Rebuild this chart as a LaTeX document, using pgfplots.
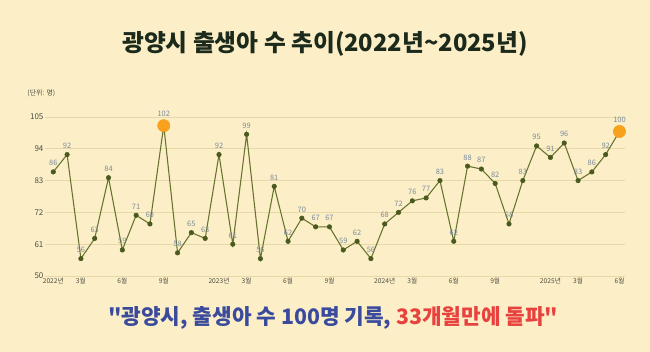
\documentclass[border=0pt]{standalone}
\usepackage{pgfplots}
\pgfplotsset{compat=1.18}
\usepackage{fontspec}
\setmainfont{Noto Sans CJK KR}
\definecolor{bg}{HTML}{FCEFC7}
\definecolor{gridc}{HTML}{E6D8A8}
\definecolor{linec}{HTML}{66722E}
\definecolor{markc}{HTML}{4A5A1E}
\definecolor{labc}{HTML}{7A8A9C}
\definecolor{tickc}{HTML}{4E4E44}
\definecolor{orangec}{HTML}{F7A11C}
\definecolor{titlec}{HTML}{1C2A1C}
\definecolor{bluec}{HTML}{3A4A9C}
\definecolor{redc}{HTML}{E8423F}
\begin{document}
\begin{tikzpicture}
\fill[bg] (0,0) rectangle (487.5pt,264pt);
\node[font=\fontsize{17.8}{19}\selectfont\bfseries, text=titlec] at (243.75pt,231pt) {광양시 출생아 수 추이(2022년\textasciitilde2025년)};
\node[font=\fontsize{5.2}{6}\selectfont, text=tickc] at (31pt,194pt) {(단위: 명)};
\begin{axis}[
  at={(33.75pt,57pt)}, anchor=south west,
  scale only axis, width=435pt, height=119.25pt,
  xmin=-0.6, xmax=41.4, ymin=50, ymax=105,
  axis line style={draw=none},
  tick style={draw=none},
  ytick={50,61,72,83,94,105},
  ymajorgrids, grid style={gridc, line width=0.6pt},
  xtick={0,2,5,8,12,14,17,20,24,26,29,32,36,38,41},
  xticklabels={2022년,3월,6월,9월,2023년,3월,6월,9월,2024년,3월,6월,9월,2025년,3월,6월},
  xticklabel style={font=\fontsize{5}{6}\selectfont, text=tickc},
  yticklabel style={font=\fontsize{6}{7}\selectfont, text=tickc},
  /pgf/number format/assume math mode=true,
  major tick length=0pt,
  tick label style={inner sep=1pt},
  clip=false,
]
\addplot[linec, line width=0.8pt, mark=none] coordinates {
(0,86)(1,92)(2,56)(3,63)(4,84)(5,59)(6,71)(7,68)(8,102)(9,58)(10,65)(11,63)(12,92)(13,61)(14,99)(15,56)(16,81)(17,62)(18,70)(19,67)(20,67)(21,59)(22,62)(23,56)(24,68)(25,72)(26,76)(27,77)(28,83)(29,62)(30,88)(31,87)(32,82)(33,68)(34,83)(35,95)(36,91)(37,96)(38,83)(39,86)(40,92)(41,100)};
\addplot[only marks, mark=*, mark size=1.7pt, mark options={fill=markc, draw=markc},
  nodes near coords, nodes near coords style={font=\fontsize{5.6}{6}\selectfont, text=labc, anchor=south, yshift=1pt}] coordinates {
(0,86)(1,92)(2,56)(3,63)(4,84)(5,59)(6,71)(7,68)(9,58)(10,65)(11,63)(12,92)(13,61)(14,99)(15,56)(16,81)(17,62)(18,70)(19,67)(20,67)(21,59)(22,62)(23,56)(24,68)(25,72)(26,76)(27,77)(28,83)(29,62)(30,88)(31,87)(32,82)(33,68)(34,83)(35,95)(36,91)(37,96)(38,83)(39,86)(40,92)};
\addplot[only marks, mark=*, mark size=4.6pt, mark options={fill=orangec, draw=orangec},
  nodes near coords, nodes near coords style={font=\fontsize{5.6}{6}\selectfont, text=labc, anchor=south, yshift=3pt}] coordinates {(8,102)(41,100)};
\end{axis}
\node[font=\fontsize{16}{18}\selectfont\bfseries] at (250pt,25.5pt) {\textcolor{bluec}{\textquotedbl 광양시, 출생아 수 100명 기록, }\textcolor{redc}{33개월만에 돌파\textquotedbl}};
\end{tikzpicture}
\end{document}
